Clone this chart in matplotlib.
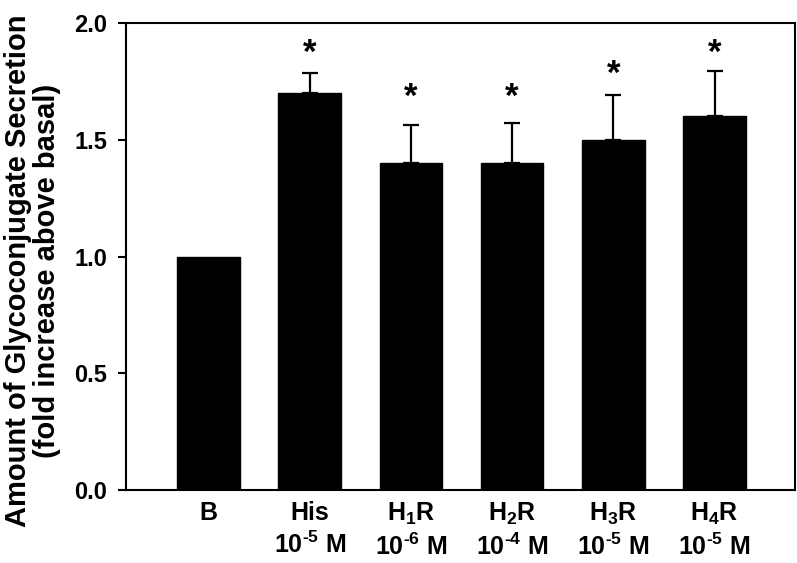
import matplotlib
matplotlib.use("Agg")
import matplotlib.pyplot as plt
import numpy as np

plt.rcParams['font.family'] = ['Liberation Sans', 'DejaVu Sans']
plt.rcParams['font.weight'] = 'bold'
plt.rcParams['mathtext.fontset'] = 'custom'
plt.rcParams['mathtext.rm'] = 'Liberation Sans:bold'
plt.rcParams['mathtext.bf'] = 'Liberation Sans:bold'
plt.rcParams['mathtext.it'] = 'Liberation Sans:bold'
plt.rcParams['mathtext.default'] = 'bf'

categories = ["B",
              "His\n10$^{\\text{-5}}$ M",
              "H$_1$R\n10$^{\\text{-6}}$ M",
              "H$_2$R\n10$^{\\text{-4}}$ M",
              "H$_3$R\n10$^{\\text{-5}}$ M",
              "H$_4$R\n10$^{\\text{-5}}$ M"]
values = [1.0, 1.70, 1.40, 1.40, 1.50, 1.60]
errors = [0.0, 0.085, 0.165, 0.17, 0.19, 0.195]
star_y = [None, 1.89, 1.70, 1.70, 1.80, 1.89]
y_ticks = [0.0, 0.5, 1.0, 1.5, 2.0]
y_tick_labels = ["0.0", "0.5", "1.0", "1.5", "2.0"]
y_label = "Amount of Glycoconjugate Secretion\n(fold increase above basal)"

fig = plt.figure(figsize=(7.97, 5.63), dpi=100)
ax = fig.add_axes([126/797, 1-490/563, (795-126)/797, (490-23)/563])

x = np.arange(len(values))
ax.bar(x, values, width=0.62, color='black', edgecolor='black', zorder=2)
err_idx = [i for i, e in enumerate(errors) if e > 0]
ax.errorbar(x[err_idx], np.array(values)[err_idx],
            yerr=[np.zeros(len(err_idx)), np.array(errors)[err_idx]],
            fmt='none', ecolor='black', elinewidth=1.6, capsize=5.5, capthick=1.6, zorder=3)

for i, sy in enumerate(star_y):
    if sy is not None:
        ax.annotate("*", xy=(i, sy), xytext=(0, -10), textcoords='offset points',
                    ha='center', va='baseline', fontsize=25, fontweight='bold')

ax.set_xlim(-0.815, 5.795)
ax.set_ylim(0, 2.0)
ax.set_yticks(y_ticks)
ax.set_yticklabels(y_tick_labels, fontsize=17, fontweight='bold')
ax.set_xticks(x)
ax.set_xticklabels(categories, fontsize=18, fontweight='bold', linespacing=1.3)
ax.tick_params(axis='x', length=0, pad=8)
ax.tick_params(axis='y', direction='out', length=6, width=1.5, pad=7.5)
for sp in ax.spines.values():
    sp.set_linewidth(1.5)
ax.set_ylabel(y_label, fontsize=21, fontweight='bold', linespacing=1.05)
ax.yaxis.set_label_coords(-0.097, 0.47)

fig.savefig("out.png", dpi=100)
